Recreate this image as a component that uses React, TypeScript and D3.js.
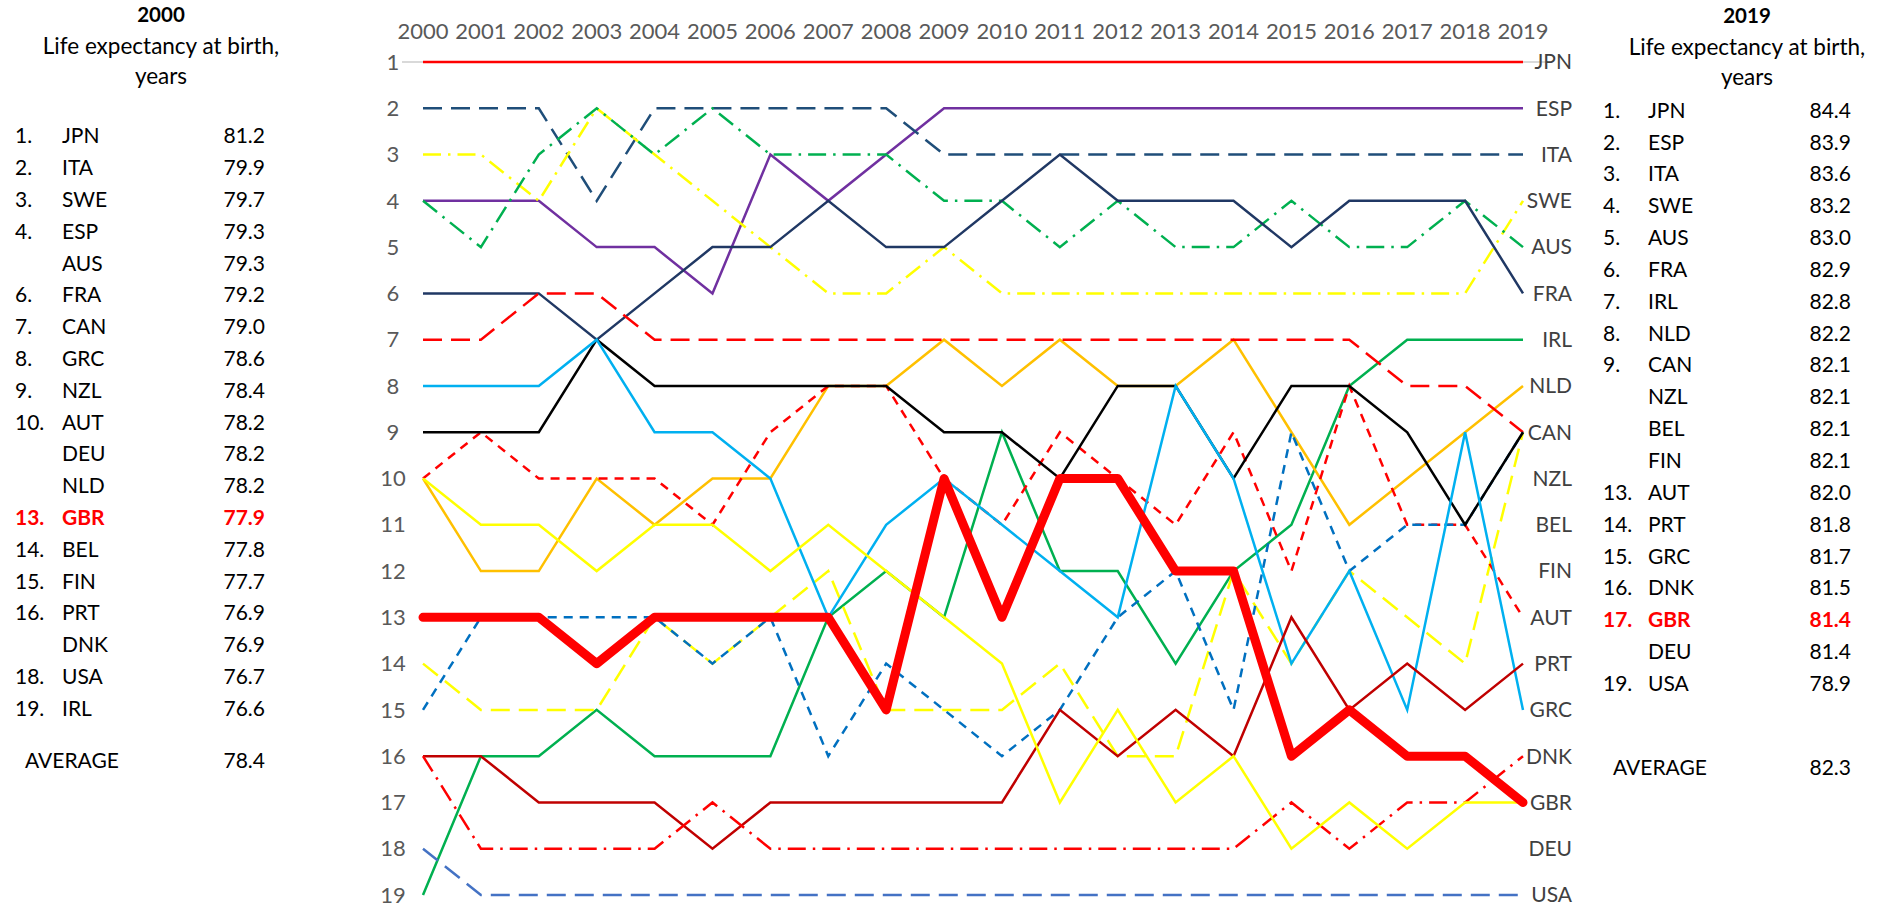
import React from "react"
import * as d3 from "d3"

// years on the top axis
const years = [2000, 2001, 2002, 2003, 2004, 2005, 2006, 2007, 2008, 2009,
    2010, 2011, 2012, 2013, 2014, 2015, 2016, 2017, 2018, 2019]

const rankTicks = [1, 2, 3, 4, 5, 6, 7, 8, 9, 10, 11, 12, 13, 14, 15, 16, 17, 18, 19]

// rank of each country per year (2000..2019)
const JPN = [1, 1, 1, 1, 1, 1, 1, 1, 1, 1, 1, 1, 1, 1, 1, 1, 1, 1, 1, 1]
const ESP = [4, 4, 4, 5, 5, 6, 3, 4, 3, 2, 2, 2, 2, 2, 2, 2, 2, 2, 2, 2]
const ITA = [2, 2, 2, 4, 2, 2, 2, 2, 2, 3, 3, 3, 3, 3, 3, 3, 3, 3, 3, 3]
const SWE = [3, 3, 4, 2, 3, 4, 5, 6, 6, 5, 6, 6, 6, 6, 6, 6, 6, 6, 6, 4]
const AUS = [4, 5, 3, 2, 3, 2, 3, 3, 3, 4, 4, 5, 4, 5, 5, 4, 5, 5, 4, 5]
const FRA = [6, 6, 6, 7, 6, 5, 5, 4, 5, 5, 4, 3, 4, 4, 4, 5, 4, 4, 4, 6]
const IRL = [19, 16, 16, 15, 16, 16, 16, 13, 12, 13, 9, 12, 12, 14, 12, 11, 8, 7, 7, 7]
const NLD = [10, 12, 12, 10, 11, 10, 10, 8, 8, 7, 8, 7, 8, 8, 7, 9, 11, 10, 9, 8]
const CAN = [7, 7, 6, 6, 7, 7, 7, 7, 7, 7, 7, 7, 7, 7, 7, 7, 7, 8, 8, 9]
const NZL = [9, 9, 9, 7, 8, 8, 8, 8, 8, 9, 9, 10, 8, 8, 10, 8, 8, 9, 11, 9]
const BEL = [14, 15, 15, 15, 13, 14, 13, 12, 15, 15, 15, 14, 16, 16, 12, 14, 12, 13, 14, 9]
const FIN = [15, 13, 13, 13, 13, 14, 13, 16, 14, 15, 16, 15, 13, 12, 15, 9, 12, 11, 11, 9]
const AUT = [10, 9, 10, 10, 10, 11, 9, 8, 8, 10, 11, 9, 10, 11, 9, 12, 8, 11, 11, 13]
const GRC = [8, 8, 8, 7, 9, 9, 10, 13, 11, 10, 11, 12, 13, 8, 10, 14, 12, 15, 9, 15]
const PRT = [16, 16, 17, 17, 17, 18, 17, 17, 17, 17, 17, 15, 16, 15, 16, 13, 15, 14, 15, 14]
const DNK = [16, 18, 18, 18, 18, 17, 18, 18, 18, 18, 18, 18, 18, 18, 18, 17, 18, 17, 17, 16]
const GBR = [13, 13, 13, 14, 13, 13, 13, 13, 15, 10, 13, 10, 10, 12, 12, 16, 15, 16, 16, 17]
const DEU = [10, 11, 11, 12, 11, 11, 12, 11, 12, 13, 14, 17, 15, 17, 16, 18, 17, 18, 17, 17]
const USA = [18, 19, 19, 19, 19, 19, 19, 19, 19, 19, 19, 19, 19, 19, 19, 19, 19, 19, 19, 19]

// 2000 table
const pos2000 = ["1.", "2.", "3.", "4.", "", "6.", "7.", "8.", "9.", "10.", "", "", "13.", "14.", "15.", "16.", "", "18.", "19."]
const countries2000 = ["JPN", "ITA", "SWE", "ESP", "AUS", "FRA", "CAN", "GRC", "NZL", "AUT", "DEU", "NLD", "GBR", "BEL", "FIN", "PRT", "DNK", "USA", "IRL"]
const le2000 = [81.2, 79.9, 79.7, 79.3, 79.3, 79.2, 79.0, 78.6, 78.4, 78.2, 78.2, 78.2, 77.9, 77.8, 77.7, 76.9, 76.9, 76.7, 76.6]
const avg2000 = 78.4

// 2019 table
const pos2019 = ["1.", "2.", "3.", "4.", "5.", "6.", "7.", "8.", "9.", "", "", "", "13.", "14.", "15.", "16.", "17.", "", "19."]
const countries2019 = ["JPN", "ESP", "ITA", "SWE", "AUS", "FRA", "IRL", "NLD", "CAN", "NZL", "BEL", "FIN", "AUT", "PRT", "GRC", "DNK", "GBR", "DEU", "USA"]
const le2019 = [84.4, 83.9, 83.6, 83.2, 83.0, 82.9, 82.8, 82.2, 82.1, 82.1, 82.1, 82.1, 82.0, 81.8, 81.7, 81.5, 81.4, 81.4, 78.9]
const avg2019 = 82.3

const LONG = "19,9"
const SHORT = "9,7"
const DASHDOT = "18,7,2.5,7"

// drawing order, GBR last so it sits on top
const series = [
    { name: "JPN", ranks: JPN, color: "#FF0000", dash: null, width: 2.5 },
    { name: "ESP", ranks: ESP, color: "#7030A0", dash: null, width: 2.5 },
    { name: "ITA", ranks: ITA, color: "#1F4E79", dash: LONG, width: 2.5 },
    { name: "SWE", ranks: SWE, color: "#FFFF00", dash: DASHDOT, width: 2.5 },
    { name: "AUS", ranks: AUS, color: "#00B050", dash: DASHDOT, width: 2.5 },
    { name: "FRA", ranks: FRA, color: "#203864", dash: null, width: 2.5 },
    { name: "IRL", ranks: IRL, color: "#00B050", dash: null, width: 2.5 },
    { name: "NLD", ranks: NLD, color: "#FFC000", dash: null, width: 2.5 },
    { name: "CAN", ranks: CAN, color: "#FF0000", dash: LONG, width: 2.5 },
    { name: "BEL", ranks: BEL, color: "#FFFF00", dash: LONG, width: 2.5 },
    { name: "AUT", ranks: AUT, color: "#FF0000", dash: SHORT, width: 2.5 },
    { name: "FIN", ranks: FIN, color: "#0070C0", dash: SHORT, width: 2.5 },
    { name: "NZL", ranks: NZL, color: "#000000", dash: null, width: 2.5 },
    { name: "GRC", ranks: GRC, color: "#00B0F0", dash: null, width: 2.5 },
    { name: "PRT", ranks: PRT, color: "#C00000", dash: null, width: 2.5 },
    { name: "DNK", ranks: DNK, color: "#FF0000", dash: DASHDOT, width: 2.5 },
    { name: "DEU", ranks: DEU, color: "#FFFF00", dash: null, width: 2.5 },
    { name: "USA", ranks: USA, color: "#4472C4", dash: LONG, width: 2.5 },
    { name: "GBR", ranks: GBR, color: "#FF0000", dash: null, width: 9 },
]

const FONT = "Lato, 'Open Sans', sans-serif"

const Table = ({ cx, left, nameX, valueX, titleY, rowY0, rowY1, avgY, avgX, title, pos, names, values, avg }) => {
    const rowY = d3.scaleLinear().domain([0, 18]).range([rowY0, rowY1])
    const fmt = d3.format(".1f")
    return (
        <g fontFamily={FONT} fontSize={21}>
            <text x={cx} y={titleY} dy="0.35em" textAnchor="middle" fontWeight="bold" fontSize={20.5}>{title}</text>
            <text x={cx} y={titleY + 31} dy="0.35em" textAnchor="middle" fontSize={22.5}>Life expectancy at birth,</text>
            <text x={cx} y={titleY + 61} dy="0.35em" textAnchor="middle" fontSize={22.5}>years</text>
            {names.map((n, i) => {
                const hl = n === "GBR"
                const fill = hl ? "#FF0000" : "#000000"
                const fw = hl ? "bold" : "normal"
                return (
                    <g key={n} fill={fill} fontWeight={fw}>
                        <text x={left} y={rowY(i)} dy="0.35em">{pos[i]}</text>
                        <text x={nameX} y={rowY(i)} dy="0.35em">{n}</text>
                        <text x={valueX} y={rowY(i)} dy="0.35em" textAnchor="end">{fmt(values[i])}</text>
                    </g>
                )
            })}
            <text x={avgX} y={avgY} dy="0.35em">AVERAGE</text>
            <text x={valueX} y={avgY} dy="0.35em" textAnchor="end">{fmt(avg)}</text>
        </g>
    )
}

export default function App() {
    const width = 1883
    const height = 907

    const x = d3.scalePoint().domain(years).range([423, 1523])
    const y = d3.scaleLinear().domain([1, 19]).range([62, 895])

    const line = d3.line()
        .x((d, i) => x(years[i]))
        .y(d => y(d))

    return (
        <svg width={width} height={height}
            style={{ position: "absolute", left: 0, top: 0, background: "#fff" }}>
            <rect width={width} height={height} fill="#fff" />

            {/* axis line at rank 1 */}
            <line x1={402} x2={1548} y1={y(1)} y2={y(1)} stroke="#D9D9D9" strokeWidth={2} />

            {/* year labels and rank ticks */}
            <g fontFamily={FONT} fontSize={22} fill="#595959">
                {years.map(yr => (
                    <text key={yr} x={x(yr)} y={31} dy="0.35em" textAnchor="middle">{yr}</text>
                ))}
                {rankTicks.map(r => (
                    <text key={r} x={393} y={y(r)} dy="0.35em" textAnchor="middle">{r}</text>
                ))}
            </g>

            {/* rank lines */}
            <g fill="none">
                {series.map(s => (
                    <path key={s.name} d={line(s.ranks)} stroke={s.color}
                        strokeWidth={s.width}
                        strokeDasharray={s.dash || undefined}
                        strokeLinejoin={s.name === "GBR" ? "round" : "miter"}
                        strokeLinecap={s.name === "GBR" ? "round" : "butt"} />
                ))}
            </g>

            {/* 2019 order labels on the right */}
            <g fontFamily={FONT} fontSize={21} fill="#404040">
                {countries2019.map((c, i) => (
                    <text key={c} x={1572} y={y(i + 1)} dy="0.35em" textAnchor="end">{c}</text>
                ))}
            </g>

            <Table cx={161} left={15} nameX={62} valueX={265} titleY={15}
                rowY0={136} rowY1={708.5} avgY={761} avgX={25}
                title="2000" pos={pos2000} names={countries2000} values={le2000} avg={avg2000} />
            <Table cx={1747} left={1603} nameX={1648} valueX={1851} titleY={16}
                rowY0={110.3} rowY1={683.6} avgY={768} avgX={1613}
                title="2019" pos={pos2019} names={countries2019} values={le2019} avg={avg2019} />
        </svg>
    )
}
